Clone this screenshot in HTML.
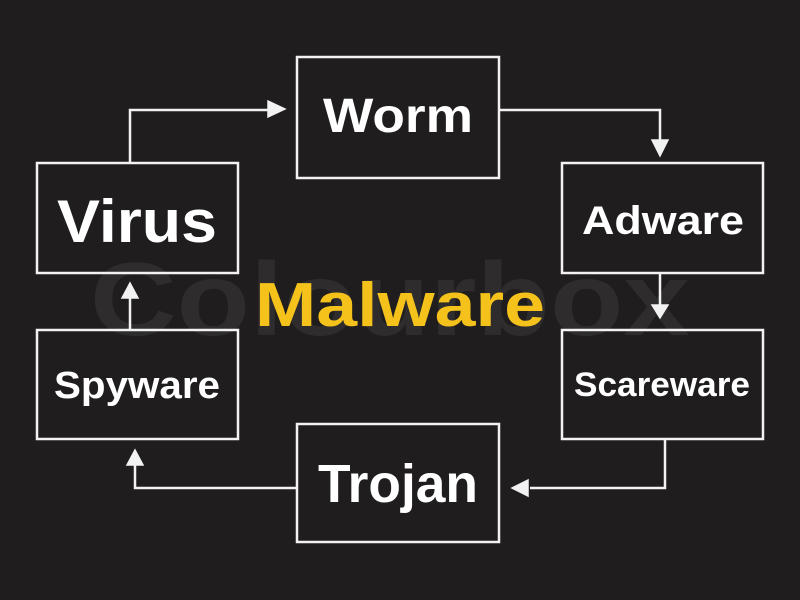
<!DOCTYPE html>
<html><head><meta charset="utf-8"><style>
html,body{margin:0;padding:0;background:#1f1d1e;}
svg{display:block}
text{font-family:"Liberation Sans",sans-serif;font-weight:bold;text-anchor:middle;}
</style></head><body>
<svg width="800" height="600" viewBox="0 0 800 600">
<rect width="800" height="600" fill="#1f1d1e"/>
<text x="390" y="335" font-size="104" fill="#2e2c2d" textLength="600" lengthAdjust="spacingAndGlyphs">Colourbox</text>
<g fill="none" stroke="#f2f2f2" stroke-width="2.5">
<rect x="297" y="57" width="202" height="121"/>
<rect x="37" y="163" width="201" height="110"/>
<rect x="562" y="163" width="201" height="110"/>
<rect x="37" y="330" width="201" height="109"/>
<rect x="562" y="330" width="201" height="109"/>
<rect x="297" y="424" width="202" height="118"/>
<polyline points="130,163 130,110 270,110"/>
<polyline points="499,110 660,110 660,140"/>
<polyline points="660,273 660,305"/>
<polyline points="665,439 665,488 530,488"/>
<polyline points="297,488 135,488 135,465"/>
<polyline points="130,330 130,298"/>
</g>
<g fill="#f2f2f2" stroke="#f2f2f2" stroke-width="1.5">
<polygon points="268,101 285,109 268,117"/>
<polygon points="652,140 668,140 660,156"/>
<polygon points="652,305 668,305 660,318"/>
<polygon points="528,480 512,488 528,496"/>
<polygon points="127,465 143,465 135,450"/>
<polygon points="122,298 138,298 130,283"/>
</g>
<g fill="#ffffff">
<text x="398" y="132" font-size="48" textLength="150" lengthAdjust="spacingAndGlyphs">Worm</text>
<text x="137" y="242" font-size="60" textLength="160" lengthAdjust="spacingAndGlyphs">Virus</text>
<text x="663" y="234" font-size="40" textLength="162" lengthAdjust="spacingAndGlyphs">Adware</text>
<text x="137" y="398" font-size="38" textLength="166" lengthAdjust="spacingAndGlyphs">Spyware</text>
<text x="662" y="396" font-size="34" textLength="176" lengthAdjust="spacingAndGlyphs">Scareware</text>
<text x="398" y="502" font-size="54" textLength="160" lengthAdjust="spacingAndGlyphs">Trojan</text>
</g>
<text x="400" y="326" font-size="62" fill="#f5c21b" textLength="290" lengthAdjust="spacingAndGlyphs">Malware</text>
</svg>
</body></html>
